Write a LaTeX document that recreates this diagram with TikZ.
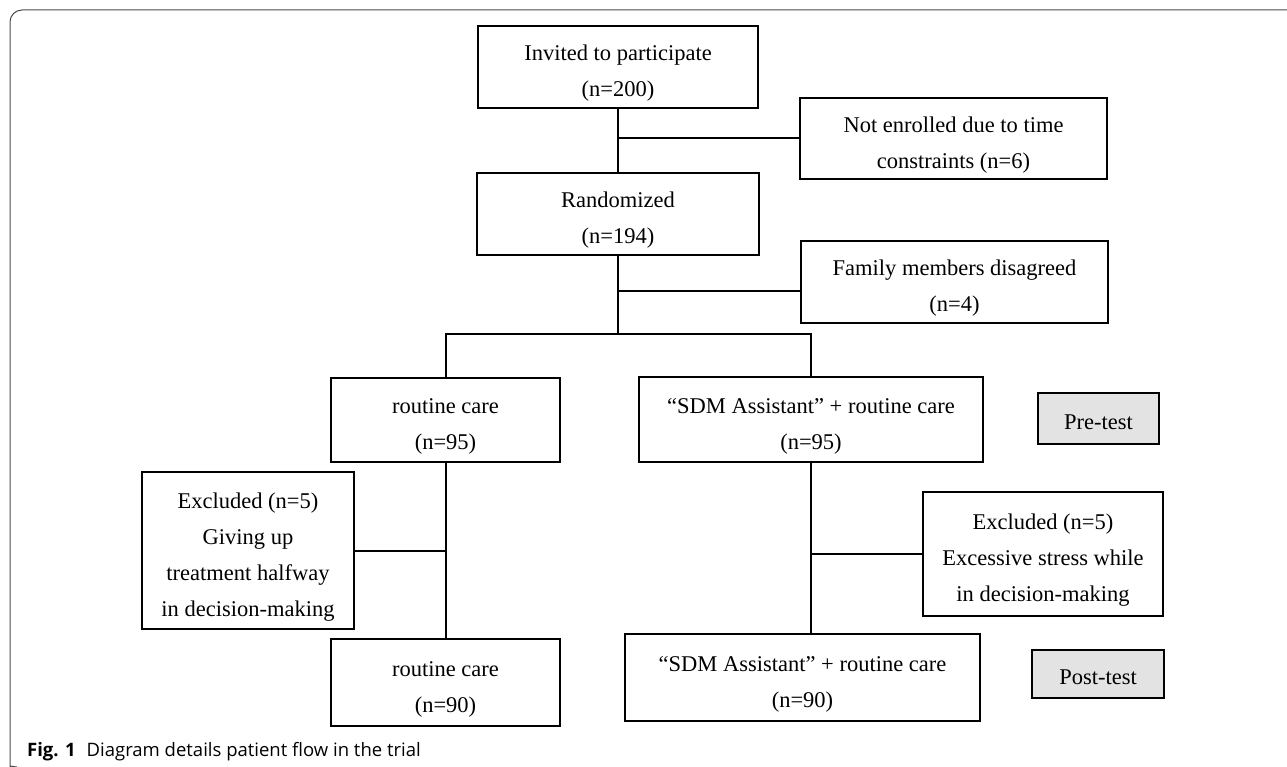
\documentclass[tikz,border=0pt]{standalone}
\usepackage{fontspec}
\setmainfont{Liberation Serif}
\newfontfamily\capfont{Open Sans}
\usetikzlibrary{positioning,calc}
\newcommand{\topgap}{\rule{0pt}{28pt}}

\begin{document}
\begin{tikzpicture}[x=1pt,y=-1pt,
    box/.style={draw, line width=2.2pt, inner sep=0pt, align=center, font=\fontsize{22.5}{36}\selectfont},
    tagbox/.style={box, fill=gray!22, execute at begin node={\rule{0pt}{22pt}}},
    link/.style={line width=2pt}]
  \useasboundingbox (0,0) rectangle (1287,767);
  \draw[gray!60!black, line width=1pt, rounded corners=12pt] (1287,10) -- (10,10) -- (10,757) .. controls (10,764) and (12,767) .. (17,767);

  \node[box, minimum width=280pt, minimum height=82pt] (invited) at (618,67) {\topgap Invited to participate\\(n=200)};
  \node[box, minimum width=307pt, minimum height=81pt] (notenrolled) at (953.5,138.5) {\topgap Not enrolled due to time\\constraints (n=6)};
  \node[box, minimum width=282pt, minimum height=82pt] (randomized) at (618,214) {\topgap Randomized\\(n=194)};
  \node[box, minimum width=307pt, minimum height=82pt] (family) at (954.5,282) {\topgap Family members disagreed\\(n=4)};
  \node[box, minimum width=229pt, minimum height=84pt] (routine95) at (445.5,420) {\topgap routine care\\(n=95)};
  \node[box, minimum width=344pt, minimum height=85pt] (sdm95) at (811,419.5) {\topgap “SDM Assistant” + routine care\\(n=95)};
  \node[tagbox, minimum width=121pt, minimum height=51pt] (pretest) at (1098.5,418.5) {Pre-test};
  \node[box, minimum width=212pt, minimum height=157pt] (exclleft) at (248,550.5) {\topgap Excluded (n=5)\\Giving up\\treatment halfway\\in decision-making};
  \node[box, minimum width=240pt, minimum height=124pt] (exclright) at (1043,554) {\topgap Excluded (n=5)\\Excessive stress while\\in decision-making};
  \node[box, minimum width=229pt, minimum height=87pt] (routine90) at (445.5,682.5) {\topgap routine care\\(n=90)};
  \node[box, minimum width=355pt, minimum height=87pt] (sdm90) at (802.5,677.5) {\topgap “SDM Assistant” + routine care\\(n=90)};
  \node[tagbox, minimum width=132pt, minimum height=48pt] (posttest) at (1098,674) {Post-test};

  \coordinate (famjoin) at ($(randomized.south)+(0,35)$);
  \coordinate (split) at ($(randomized.south)+(0,78)$);

  \draw[link] (invited.south) -- (randomized.north);
  \draw[link] (invited.south |- notenrolled.west) -- (notenrolled.west);
  \draw[link] (randomized.south) -- (split);
  \draw[link] (famjoin) -- (famjoin -| family.west);
  \draw[link] (routine95.north) -- (routine95.north |- split) -- (sdm95.north |- split) -- (sdm95.north);
  \draw[link] (routine95.south) -- (routine90.north);
  \draw[link] (exclleft.east) -- (exclleft.east -| routine95.south);
  \draw[link] (sdm95.south) -- (sdm95.south |- sdm90.north);
  \draw[link] (exclright.west) -- (exclright.west -| sdm95.south);

  \node[anchor=base west, inner sep=0pt, font=\capfont\fontsize{18.5}{22}\selectfont] (caption) at (27,756.5) {\textbf{Fig. 1}\hspace{11pt}Diagram details patient flow in the trial};
\end{tikzpicture}
\end{document}
